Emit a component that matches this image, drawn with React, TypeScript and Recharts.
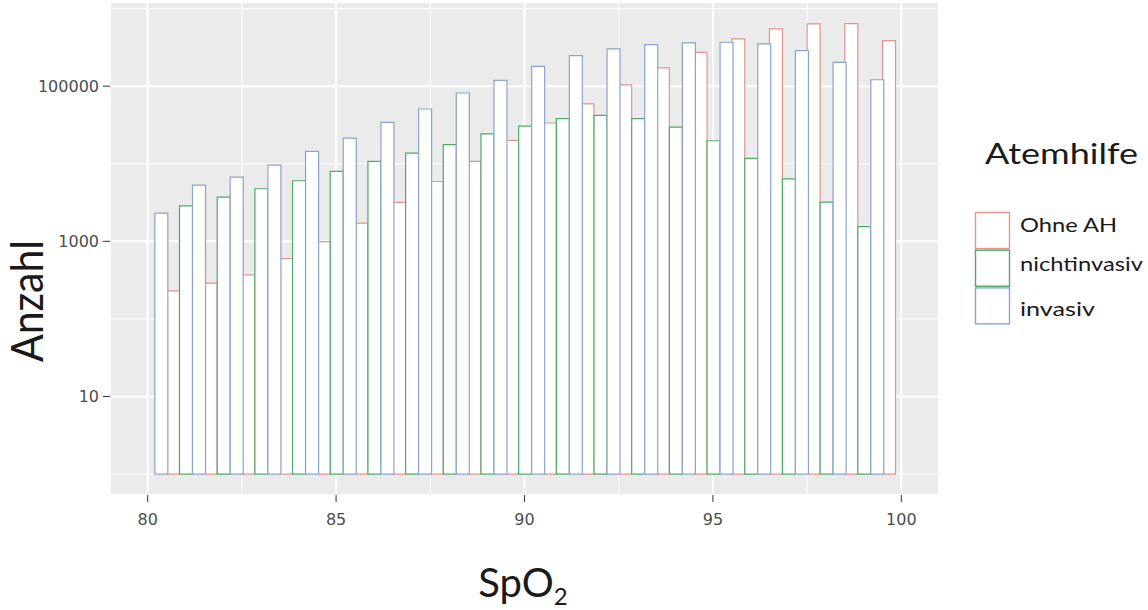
import React from 'react';
import { ComposedChart, Bar, XAxis, YAxis, CartesianGrid, Legend, Label } from 'recharts';

// SpO2 bins (one per integer value) and counts per respiratory support group
const spo2 = [80, 81, 82, 83, 84, 85, 86, 87, 88, 89, 90, 91, 92, 93, 94, 95, 96, 97, 98, 99, 100];
const ohneAH = [null, 230, 290, 370, 600, 990, 1720, 3170, 5900, 10700, 20000, 33500, 59000, 104000, 172000, 273000, 406000, 547000, 635000, 640000, 387000];
const nichtinvasiv = [null, 2870, 3720, 4760, 6040, 7960, 10700, 13700, 17600, 24200, 30600, 38100, 42000, 38100, 29700, 19800, 11700, 6400, 3210, 1550, null];
const invasiv = [2310, 5310, 6730, 9620, 14400, 21400, 34100, 50800, 81700, 119000, 180000, 248000, 302000, 343000, 361000, 368000, 350000, 287000, 203000, 121000, null];

const seriesNames = ['Ohne AH', 'nichtinvasiv', 'invasiv'];
const seriesColors = ['#E3948E', '#4DAA68', '#8BA3CF'];

const xTicks = [80, 85, 90, 95, 100];
const xMinor = [82.5, 87.5, 92.5, 97.5];
const yTicks = [10, 1000, 100000];
const yMinor = [1, 100, 10000, 1000000];

const rows = spo2.map((x, i) => ({ spo2: x, ohne: ohneAH[i], nicht: nichtinvasiv[i], inv: invasiv[i] }));

// bars start at a count of 1 on the log axis; empty bins collapse to zero height
const fromOne = (key: string) => (d: any) => (d[key] == null ? [1, 1] : [1, d[key]]);

const tickFont = { fill: '#4D4D4D', fontSize: 16, fontFamily: 'DejaVu Sans' };
const titleFont = 'Lato';

const renderYTitle = (props: any) => {
  const vb = props.viewBox || { x: 0, y: 0, width: 0, height: 0 };
  const cx = vb.x + 43;
  const cy = vb.y + 299;
  return (
    <text
      transform={`translate(${cx},${cy}) rotate(-90)`}
      textAnchor="middle"
      fontFamily={titleFont}
      fontSize={44}
      fill="#1A1A1A"
      textLength={122}
      lengthAdjust="spacingAndGlyphs"
    >
      Anzahl
    </text>
  );
};

const renderXTitle = (props: any) => {
  const vb = props.viewBox || { x: 0, y: 0, width: 0, height: 0 };
  const cx = vb.x + 413;
  const cy = vb.y + 102;
  return (
    <text x={cx} y={cy} textAnchor="middle" fontFamily={titleFont} fontSize={40} fill="#1A1A1A">
      SpO
      <tspan fontSize={24} dy={8}>2</tspan>
    </text>
  );
};

const labelWidths = [97, 123, 75];
const labelBaselines = [102, 141, 186];

const renderLegend = () => (
  <svg width={188} height={200} style={{ display: 'block', overflow: 'visible' }}>
    <text x={25} y={34} fontFamily={titleFont} fontSize={28} fill="#1A1A1A" textLength={153} lengthAdjust="spacingAndGlyphs">
      Atemhilfe
    </text>
    {seriesNames.map((name, i) => (
      <g key={name}>
        <rect x={15.5} y={82.5 + i * 37.7} width={34} height={36} fill="#FFFFFF" stroke={seriesColors[i]} strokeWidth={1.4} />
        <text
          x={60}
          y={labelBaselines[i]}
          fontFamily={titleFont}
          fontSize={20}
          fill="#1A1A1A"
          textLength={labelWidths[i]}
          lengthAdjust="spacingAndGlyphs"
        >
          {name}
        </text>
      </g>
    ))}
  </svg>
);

export default function App() {
  return (
    <div style={{ position: 'absolute', left: 0, top: 0, width: 1148, height: 610, background: '#FFFFFF' }}>
      <ComposedChart
        width={1148}
        height={610}
        data={rows}
        margin={{ top: 2, right: 209, bottom: 0, left: 0 }}
        barGap={0}
        barCategoryGap={0}
      >
        <CartesianGrid fill="#EBEBEB" stroke="#FFFFFF" strokeWidth={1} horizontalValues={yMinor} verticalValues={xMinor} />
        <CartesianGrid stroke="#FFFFFF" strokeWidth={2} />
        <XAxis
          dataKey="spo2"
          type="number"
          domain={[79, 101]}
          ticks={xTicks}
          interval={0}
          allowDataOverflow
          height={115}
          axisLine={false}
          tickLine={{ stroke: '#333333' }}
          tickSize={7}
          tickMargin={12}
          tick={tickFont}
        >
          <Label content={renderXTitle} />
        </XAxis>
        <YAxis
          type="number"
          scale="log"
          domain={[Math.pow(10, -0.27), Math.pow(10, 6.085)]}
          ticks={yTicks}
          interval={0}
          allowDataOverflow
          width={110}
          axisLine={false}
          tickLine={{ stroke: '#333333' }}
          tickSize={7}
          tickMargin={4}
          tick={tickFont}
        >
          <Label content={renderYTitle} />
        </YAxis>
        <Bar name={seriesNames[0]} dataKey={fromOne('ohne')} fill="#FFFFFF" stroke={seriesColors[0]} strokeWidth={1.2} isAnimationActive={false} />
        <Bar name={seriesNames[1]} dataKey={fromOne('nicht')} fill="#FFFFFF" stroke={seriesColors[1]} strokeWidth={1.2} isAnimationActive={false} />
        <Bar name={seriesNames[2]} dataKey={fromOne('inv')} fill="#FFFFFF" stroke={seriesColors[2]} strokeWidth={1.2} isAnimationActive={false} />
        <Legend
          layout="vertical"
          align="center"
          verticalAlign="middle"
          content={renderLegend}
          wrapperStyle={{ position: 'absolute', left: 960, top: 130, width: 188, height: 200 }}
        />
      </ComposedChart>
    </div>
  );
}
